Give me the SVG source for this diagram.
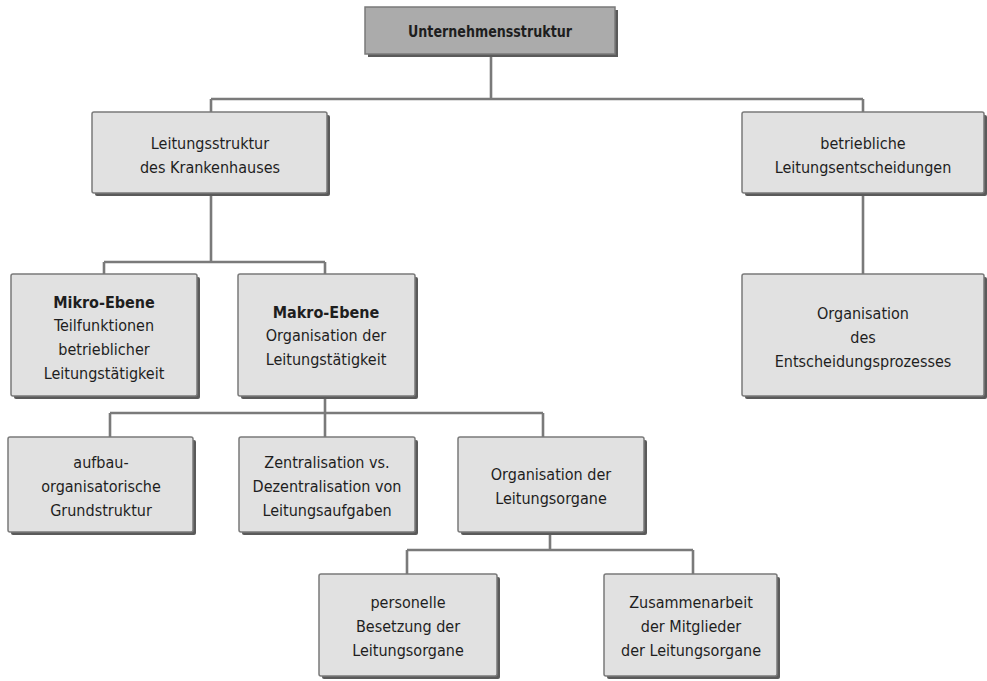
<svg xmlns="http://www.w3.org/2000/svg" width="987" height="681" viewBox="0 0 987 681">
  <style>
    .box { fill: #e1e1e1; stroke: #7a7a7a; stroke-width: 1.5; }
    .root { fill: #ababab; stroke: #7a7a7a; stroke-width: 1.5; }
    .shadow { fill: #5a5a5a; }
    .conn { fill: none; stroke: #7a7a7a; stroke-width: 2.6; }
    text { font-family: "Liberation Sans Narrow", "DejaVu Sans Condensed", "Liberation Sans", sans-serif; font-size: 16px; fill: #1e1e1e; text-anchor: middle; }
    .b { font-weight: bold; }
  </style>

  <!-- connectors -->
  <g id="connectors">
    <path class="conn" d="M491 54 V99 M211 99 H863 M211 99 V112 M863 99 V112"/>
    <path class="conn" d="M211 193 V262 M104 262 H325 M104 262 V274 M325 262 V274"/>
    <path class="conn" d="M863 193 V274"/>
    <path class="conn" d="M325 396 V437 M110 413 H543 M110 413 V437 M543 413 V437"/>
    <path class="conn" d="M550 532 V550 M407 550 H693 M407 550 V574 M693 550 V574"/>
  </g>

  <!-- root -->
  <g id="n-unternehmensstruktur">
    <rect class="shadow" x="368" y="10" width="250" height="47"/>
    <rect class="root" x="365" y="7" width="250" height="47"/>
    <text class="b" x="490" y="37" font-size="17" textLength="164" lengthAdjust="spacingAndGlyphs">Unternehmensstruktur</text>
  </g>

  <g id="n-leitungsstruktur">
    <rect class="shadow" x="95" y="115" width="235" height="81" rx="2"/>
    <rect class="box" x="92" y="112" width="235" height="81" rx="2"/>
    <text x="210" y="149">Leitungsstruktur</text>
    <text x="210" y="173">des Krankenhauses</text>
  </g>

  <g id="n-leitungsentscheidungen">
    <rect class="shadow" x="745" y="115" width="242" height="81" rx="2"/>
    <rect class="box" x="742" y="112" width="242" height="81" rx="2"/>
    <text x="863" y="149">betriebliche</text>
    <text x="863" y="173">Leitungsentscheidungen</text>
  </g>

  <g id="n-mikro">
    <rect class="shadow" x="14" y="277" width="186" height="122" rx="2"/>
    <rect class="box" x="11" y="274" width="186" height="122" rx="2"/>
    <text class="b" x="104" y="308">Mikro-Ebene</text>
    <text x="104" y="331">Teilfunktionen</text>
    <text x="104" y="355">betrieblicher</text>
    <text x="104" y="379">Leitungstätigkeit</text>
  </g>

  <g id="n-makro">
    <rect class="shadow" x="241" y="277" width="177" height="122" rx="2"/>
    <rect class="box" x="238" y="274" width="177" height="122" rx="2"/>
    <text class="b" x="326" y="318">Makro-Ebene</text>
    <text x="326" y="341">Organisation der</text>
    <text x="326" y="365">Leitungstätigkeit</text>
  </g>

  <g id="n-entscheidungsprozess">
    <rect class="shadow" x="745" y="277" width="242" height="122" rx="2"/>
    <rect class="box" x="742" y="274" width="242" height="122" rx="2"/>
    <text x="863" y="319">Organisation</text>
    <text x="863" y="343">des</text>
    <text x="863" y="367">Entscheidungsprozesses</text>
  </g>

  <g id="n-aufbau">
    <rect class="shadow" x="11" y="440" width="185" height="95" rx="2"/>
    <rect class="box" x="8" y="437" width="185" height="95" rx="2"/>
    <text x="101" y="468">aufbau-</text>
    <text x="101" y="492">organisatorische</text>
    <text x="101" y="516">Grundstruktur</text>
  </g>

  <g id="n-zentralisation">
    <rect class="shadow" x="242" y="440" width="176" height="95" rx="2"/>
    <rect class="box" x="239" y="437" width="176" height="95" rx="2"/>
    <text x="327" y="468">Zentralisation vs.</text>
    <text x="327" y="492">Dezentralisation von</text>
    <text x="327" y="516">Leitungsaufgaben</text>
  </g>

  <g id="n-leitungsorgane">
    <rect class="shadow" x="461" y="440" width="186" height="95" rx="2"/>
    <rect class="box" x="458" y="437" width="186" height="95" rx="2"/>
    <text x="551" y="480">Organisation der</text>
    <text x="551" y="504">Leitungsorgane</text>
  </g>

  <g id="n-besetzung">
    <rect class="shadow" x="322" y="577" width="178" height="102" rx="2"/>
    <rect class="box" x="319" y="574" width="178" height="102" rx="2"/>
    <text x="408" y="608">personelle</text>
    <text x="408" y="632">Besetzung der</text>
    <text x="408" y="656">Leitungsorgane</text>
  </g>

  <g id="n-zusammenarbeit">
    <rect class="shadow" x="607" y="577" width="173" height="102" rx="2"/>
    <rect class="box" x="604" y="574" width="173" height="102" rx="2"/>
    <text x="691" y="608">Zusammenarbeit</text>
    <text x="691" y="632">der Mitglieder</text>
    <text x="691" y="656">der Leitungsorgane</text>
  </g>
</svg>
